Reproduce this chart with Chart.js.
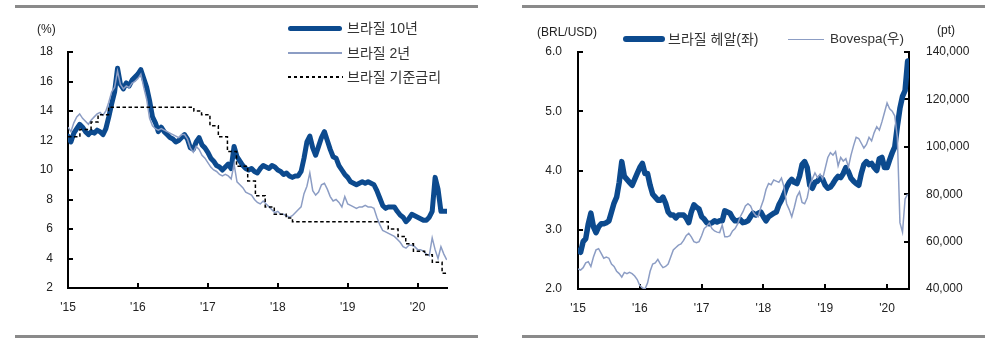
<!DOCTYPE html>
<html><head><meta charset="utf-8">
<script src="https://cdn.jsdelivr.net/npm/chart.js@4.4.1/dist/chart.umd.min.js"></script>
<style>
body{margin:0;width:1000px;height:341px;background:#fff;overflow:hidden;position:relative;font-family:"Liberation Sans",Arial,"Noto Sans CJK KR",sans-serif;}
.panel{position:absolute;top:0;width:500px;height:341px;}
.rule{position:absolute;height:3px;background:#8a8a8a;}
.lbl{position:absolute;font-size:12px;color:#222;white-space:nowrap;line-height:1;}
.leg{position:absolute;font-size:14px;color:#333;white-space:nowrap;line-height:1;font-family:"Liberation Sans","Noto Sans CJK KR",sans-serif;}
.sw{position:absolute;}
</style></head>
<body>
<div class="rule" style="left:15px;top:5px;width:463px;"></div>
<div class="rule" style="left:15px;top:335px;width:463px;"></div>
<div class="rule" style="left:522px;top:5px;width:463px;"></div>
<div class="rule" style="left:522px;top:335px;width:463px;"></div>

<div class="panel" style="left:0"><canvas id="c1"></canvas></div>
<div class="panel" style="left:500px"><canvas id="c2"></canvas></div>

<div class="lbl" style="left:37px;top:23px;">(%)</div>
<div class="sw" style="left:288px;top:25.5px;width:54px;height:5px;background:#0C4A8E;border-radius:3px;"></div>
<div class="leg" style="left:347px;top:21px;">브라질 10년</div>
<div class="sw" style="left:288px;top:52px;width:54px;height:1.5px;background:#8C9DC4;"></div>
<div class="leg" style="left:347px;top:46px;">브라질 2년</div>
<div class="sw" style="left:288px;top:76px;width:55px;height:1.5px;background:repeating-linear-gradient(to right,#000 0 3.5px,transparent 3.5px 6px);"></div>
<div class="leg" style="left:347px;top:70px;">브라질 기준금리</div>

<div class="lbl" style="left:537px;top:26px;">(BRL/USD)</div>
<div class="sw" style="left:623px;top:36px;width:42px;height:5.5px;background:#0C4A8E;border-radius:3px;"></div>
<div class="leg" style="left:668px;top:32px;">브라질 헤알(좌)</div>
<div class="sw" style="left:788px;top:38.5px;width:36px;height:1.5px;background:#8C9DC4;"></div>
<div class="leg" style="left:830px;top:32px;font-size:13.5px;">Bovespa(우)</div>
<div class="lbl" style="left:937px;top:24px;">(pt)</div>

<script>
// ---------- data ----------
const yearTicks = [2015, 2016, 2017, 2018, 2019, 2020];
const yearLabels = ["'15", "'16", "'17", "'18", "'19", "'20"];
const samplesPerYear = 24; // semi-monthly observations starting Jan 2015

// Brazil 10Y government bond yield (%)
const br10y = [
  12.3, 11.9, 12.5, 12.8, 13.1, 12.9, 12.6, 12.4, 12.6, 12.5, 12.7, 12.6, 12.4, 12.8, 13.6, 14.5, 15.3, 16.9, 15.8, 15.5, 15.9, 15.7, 16.1, 16.3,
  16.5, 16.8, 16.2, 15.6, 14.7, 13.6, 13.2, 12.6, 12.9, 12.6, 12.4, 12.2, 12.1, 11.9, 12.0, 12.2, 12.4, 12.1, 11.5, 11.4, 11.9, 12.2, 11.7, 11.5,
  11.2, 10.8, 10.6, 10.3, 10.2, 10.0, 10.2, 10.4, 10.1, 11.6, 10.9, 10.6, 10.3, 10.1, 10.0, 10.1, 9.9, 9.8, 10.1, 10.3, 10.2, 10.1, 10.3, 10.2,
  10.0, 9.9, 9.7, 9.8, 9.6, 9.5, 9.6, 9.6, 9.9, 10.8, 11.9, 12.3, 11.5, 11.0, 11.6, 12.2, 12.6, 12.0, 11.4, 10.9, 10.8, 10.3, 10.0, 9.7,
  9.5, 9.2, 9.1, 9.0, 9.1, 9.2, 9.1, 9.2, 9.1, 9.0, 8.6, 8.1, 7.6, 7.4, 7.5, 7.5, 7.5, 7.2, 6.95, 6.8, 6.5, 6.7, 7.0, 6.9,
  6.8, 6.7, 6.6, 6.6, 6.8, 7.2, 9.5, 8.7, 7.2, 7.2, 7.2
];
// Brazil 2Y yield (%)
const br2y = [
  12.9, 12.6, 13.2, 13.6, 13.8, 13.5, 13.3, 13.1, 13.4, 13.6, 13.8, 13.9, 13.7, 14.0, 14.6, 15.3, 15.6, 16.7, 15.8, 15.5, 15.7, 15.6, 15.9, 16.0,
  16.2, 16.5, 15.6, 14.8, 13.5, 13.0, 12.8, 12.7, 12.8, 12.7, 12.6, 12.5, 12.4, 12.3, 12.2, 12.4, 12.4, 12.1, 11.5, 11.2, 11.6, 11.4, 11.0, 10.8,
  10.5, 10.2, 10.0, 9.9, 9.7, 9.6, 9.7, 9.6, 9.4, 10.4, 9.2, 9.0, 8.8, 8.5, 8.4, 8.3, 8.0, 7.8, 7.7, 7.9, 7.7, 7.5, 7.3, 7.1,
  7.2, 7.0, 7.0, 6.9, 6.8, 6.9, 7.1, 7.3, 7.5, 8.4, 8.9, 9.8, 8.6, 8.3, 8.5, 9.0, 9.1, 8.7, 8.2, 7.9, 8.0, 7.8, 7.5, 8.2,
  7.7, 7.6, 7.5, 7.4, 7.5, 7.5, 7.6, 7.5, 7.5, 7.4, 6.8, 6.3, 5.9, 5.8, 5.7, 5.6, 5.5, 5.3, 5.1, 4.8, 4.7, 4.9, 4.9, 4.8,
  4.6, 4.6, 4.5, 4.3, 4.2, 5.4, 4.6, 4.0, 4.8, 4.3, 3.9
];
// Selic policy rate (%) – change dates (fractional year) and new levels
const selicDates = [2015.00, 2015.17, 2015.33, 2015.43, 2015.58, 2016.80, 2016.91, 2017.03, 2017.15, 2017.28, 2017.41, 2017.57, 2017.68, 2017.82, 2017.95, 2018.12, 2018.21, 2019.58, 2019.72, 2019.83, 2019.94, 2020.10, 2020.21, 2020.35, 2020.42];
const selicRates = [12.25, 12.75, 13.25, 13.75, 14.25, 14.00, 13.75, 13.00, 12.25, 11.25, 10.25, 9.25, 8.25, 7.50, 7.00, 6.75, 6.50, 6.00, 5.50, 5.00, 4.50, 4.25, 3.75, 3.00, 3.00];

// BRL per USD
const brlUsd = [
  2.65, 2.62, 2.80, 2.85, 3.10, 3.28, 3.05, 2.95, 3.05, 3.10, 3.10, 3.12, 3.15, 3.30, 3.45, 3.55, 3.80, 4.15, 3.90, 3.85, 3.80, 3.75, 3.85, 3.95,
  4.05, 4.12, 3.95, 3.95, 3.75, 3.60, 3.55, 3.50, 3.50, 3.55, 3.45, 3.30, 3.25, 3.25, 3.20, 3.25, 3.25, 3.25, 3.20, 3.12, 3.30, 3.42, 3.38, 3.35,
  3.22, 3.18, 3.12, 3.10, 3.12, 3.15, 3.13, 3.15, 3.15, 3.32, 3.30, 3.28, 3.20, 3.15, 3.15, 3.17, 3.12, 3.13, 3.15, 3.22, 3.28, 3.25, 3.28, 3.30,
  3.22, 3.15, 3.22, 3.25, 3.28, 3.30, 3.42, 3.50, 3.60, 3.72, 3.80, 3.85, 3.80, 3.78, 3.90, 4.10, 4.15, 4.05, 3.75, 3.70, 3.80, 3.82, 3.88, 3.85,
  3.75, 3.70, 3.72, 3.78, 3.85, 3.90, 3.88, 3.95, 4.05, 3.98, 3.87, 3.82, 3.78, 3.75, 3.95, 4.10, 4.15, 4.10, 4.12, 4.05, 4.00, 4.20, 4.22, 4.05,
  4.05, 4.18, 4.30, 4.40, 4.75, 5.05, 5.25, 5.35, 5.85
];
// Bovespa index (pt)
const bovespa = [
  48500, 48000, 49000, 51000, 51500, 49500, 53500, 56500, 57000, 55000, 53000, 53500, 53000, 50500, 49500, 47500, 46500, 45000, 47000, 46500, 47000, 46500, 45500, 44000,
  41500, 40500, 40000, 42500, 47500, 50500, 51000, 52500, 50500, 49000, 49500, 50500, 53500, 56500, 57500, 58500, 59000, 60500, 62500, 63500, 62000, 60000, 59500, 60000,
  62500, 65500, 66500, 67800, 65500, 64500, 64000, 63800, 67000, 62000, 62000, 62500, 64500, 65500, 67500, 70500, 72500, 75000, 76000, 75000, 72500, 71000, 70500, 74500,
  77500, 82000, 84500, 84000, 86000, 85500, 85000, 86800, 83000, 76000, 73500, 70500, 74500, 79000, 81000, 76500, 76000, 78500, 84000, 86500, 89000, 87000, 88500, 86500,
  91000, 95500, 97500, 96500, 98000, 92000, 95500, 94000, 95000, 91500, 96500, 100500, 104000, 103500, 101500, 99500, 101000, 104000, 102500, 106000, 108500, 107000, 110500, 114500,
  118500, 116000, 115000, 113000, 104000, 68000, 64000, 78000, 80000
];

// ---------- chart setup ----------
const toPoints = (vals) => vals.map((v, i) => ({ x: 2015 + i / samplesPerYear, y: v }));
const zip = (xs, ys) => xs.map((x, i) => ({ x, y: ys[i] }));

Chart.defaults.font.family = "'Liberation Sans', Arial, sans-serif";
Chart.defaults.font.size = 12;
Chart.defaults.color = '#222';

const DARK = '#0C4A8E', LIGHT = '#8C9DC4';

function xAxis(max, h) {
  return {
    type: 'linear', min: 2015, max: max, position: 'bottom',
    border: { color: '#000', width: 2 },
    grid: { drawOnChartArea: false, tickLength: -5, color: '#000', lineWidth: 2 },
    ticks: { padding: 17, maxRotation: 0, autoSkip: false, callback: (v, i) => yearLabels[i] },
    afterBuildTicks: s => { s.ticks = yearTicks.map(v => ({ value: v })); },
    afterFit: s => { s.height = h; }
  };
}

new Chart(document.getElementById('c1'), {
  type: 'line',
  data: {
    datasets: [
      { label: '브라질 기준금리', data: zip(selicDates, selicRates), stepped: true, borderColor: '#000', borderWidth: 1.5, borderDash: [3.5, 2.5], pointRadius: 0, order: 0 },
      { label: '브라질 2년', data: toPoints(br2y), borderColor: LIGHT, borderWidth: 1.5, pointRadius: 0, tension: 0, order: 1 },
      { label: '브라질 10년', data: toPoints(br10y), borderColor: DARK, borderWidth: 5, borderJoinStyle: 'round', borderCapStyle: 'round', pointRadius: 0, tension: 0, order: 2 }
    ]
  },
  options: {
    responsive: true, maintainAspectRatio: false, animation: false,
    layout: { padding: { top: 52, right: 53, left: 0, bottom: 0 } },
    plugins: { legend: { display: false }, tooltip: { enabled: false } },
    scales: {
      x: xAxis(2020.42, 53),
      y: {
        min: 2, max: 18, position: 'left',
        border: { color: '#000', width: 2 },
        grid: { drawOnChartArea: false, tickLength: -5, color: '#000', lineWidth: 2 },
        ticks: { stepSize: 2, padding: 20 },
        afterFit: s => { s.width = 68; }
      }
    }
  }
});

new Chart(document.getElementById('c2'), {
  type: 'line',
  data: {
    datasets: [
      { label: 'Bovespa(우)', data: toPoints(bovespa), yAxisID: 'y1', borderColor: LIGHT, borderWidth: 1.5, pointRadius: 0, tension: 0, order: 0 },
      { label: '브라질 헤알(좌)', data: toPoints(brlUsd), yAxisID: 'y', borderColor: DARK, borderWidth: 5.5, borderJoinStyle: 'round', borderCapStyle: 'round', pointRadius: 0, tension: 0, order: 1 }
    ]
  },
  options: {
    responsive: true, maintainAspectRatio: false, animation: false,
    layout: { padding: { top: 52, right: 0, left: 0, bottom: 0 } },
    plugins: { legend: { display: false }, tooltip: { enabled: false } },
    scales: {
      x: xAxis(2020.355, 52),
      y: {
        min: 2, max: 6, position: 'left',
        border: { color: '#000', width: 2 },
        grid: { drawOnChartArea: false, tickLength: -5, color: '#000', lineWidth: 2 },
        ticks: { stepSize: 1, padding: 21, callback: v => v.toFixed(1) },
        afterFit: s => { s.width = 78; }
      },
      y1: {
        min: 40000, max: 140000, position: 'right',
        border: { color: '#000', width: 2 },
        grid: { drawOnChartArea: false, tickLength: -5, color: '#000', lineWidth: 2 },
        ticks: { stepSize: 20000, padding: 22, callback: v => v.toLocaleString('en-US') },
        afterFit: s => { s.width = 91; }
      }
    }
  }
});
</script>
</body></html>
